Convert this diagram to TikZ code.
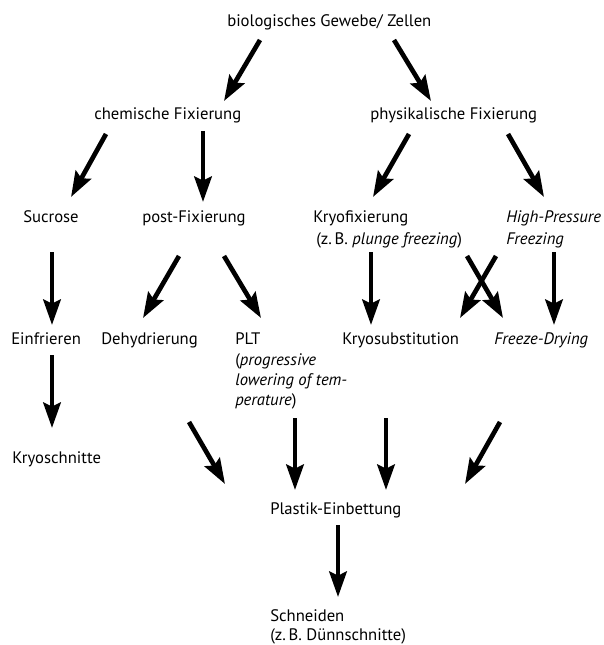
\documentclass[tikz,border=0pt]{standalone}
\usepackage{fontspec}
\setmainfont{PT Sans}
\usetikzlibrary{arrows.meta}
\begin{document}
\begin{tikzpicture}[x=0.75pt,y=-0.75pt,
  lbl/.style={anchor=base west, inner sep=0pt, font=\fontsize{12.5}{15}\selectfont},
  arr/.style={line width=3.5pt, -{Stealth[length=19pt,width=13pt,inset=3pt]}}]
\useasboundingbox (0,0) rectangle (603,645);
% texts
\node[lbl] (bio) at (227,27) {biologisches Gewebe/ Zellen};
\node[lbl] (chem) at (94,120) {chemische Fixierung};
\node[lbl] (phys) at (370,120) {physikalische Fixierung};
\node[lbl] (suc) at (23,223) {Sucrose};
\node[lbl] (post) at (142,223) {post-Fixierung};
\node[lbl] (kryo) at (313,223) {Kryofixierung};
\node[lbl] (kryob) at (316,244) {(z.\,B. \textit{plunge freezing})};
\node[lbl] (hpf) at (506,223) {\textit{High-Pressure}};
\node[lbl] (hpfb) at (506,244) {\textit{Freezing}};
\node[lbl] (einf) at (11,344) {Einfrieren};
\node[lbl] (dehy) at (101,344) {Dehydrierung};
\node[lbl] (plt) at (235,344) {PLT};
\node[lbl] (pltb) at (235,365) {(\textit{progressive}};
\node[lbl] (pltc) at (235,385) {\textit{lowering of tem-}};
\node[lbl] (pltd) at (235,405) {\textit{perature})};
\node[lbl] (ksub) at (342,344) {Kryosubstitution};
\node[lbl] (fd) at (494,344) {\textit{Freeze-Drying}};
\node[lbl] (ksch) at (12,463) {Kryoschnitte};
\node[lbl] (plast) at (270,514) {Plastik-Einbettung};
\node[lbl] (schn) at (270,621) {Schneiden};
\node[lbl] (schnb) at (270,640) {(z.\,B. Dünnschnitte)};
% arrow end points
\coordinate (a1s) at (260,40);  \coordinate (a1e) at (224,101);
\coordinate (a2s) at (394,40);  \coordinate (a2e) at (431,101);
\coordinate (a3s) at (106,134); \coordinate (a3e) at (71,197);
\coordinate (a4s) at (203,131); \coordinate (a4e) at (203,202);
\coordinate (a5s) at (409,134); \coordinate (a5e) at (373,197);
\coordinate (a6s) at (508,134); \coordinate (a6e) at (544,197);
\coordinate (a7s) at (52,252);  \coordinate (a7e) at (52,325);
\coordinate (a8s) at (179,256); \coordinate (a8e) at (143,318);
\coordinate (a9s) at (224,256); \coordinate (a9e) at (261,318);
\coordinate (a10s) at (371,252); \coordinate (a10e) at (371,325);
\coordinate (a11s) at (467,256); \coordinate (a11e) at (503,318);
\coordinate (a12s) at (496,256); \coordinate (a12e) at (460,318);
\coordinate (a13s) at (554,252); \coordinate (a13e) at (554,325);
\coordinate (a14s) at (52,355);  \coordinate (a14e) at (52,428);
\coordinate (a15s) at (189,422); \coordinate (a15e) at (225,484);
\coordinate (a16s) at (295,418); \coordinate (a16e) at (295,490);
\coordinate (a17s) at (386,418); \coordinate (a17e) at (386,490);
\coordinate (a18s) at (500,422); \coordinate (a18e) at (465,484);
\coordinate (a19s) at (338,525); \coordinate (a19e) at (338,597);
% arrows
\foreach \i in {1,...,19} {\draw[arr] (a\i s) -- (a\i e);}
\end{tikzpicture}
\end{document}
